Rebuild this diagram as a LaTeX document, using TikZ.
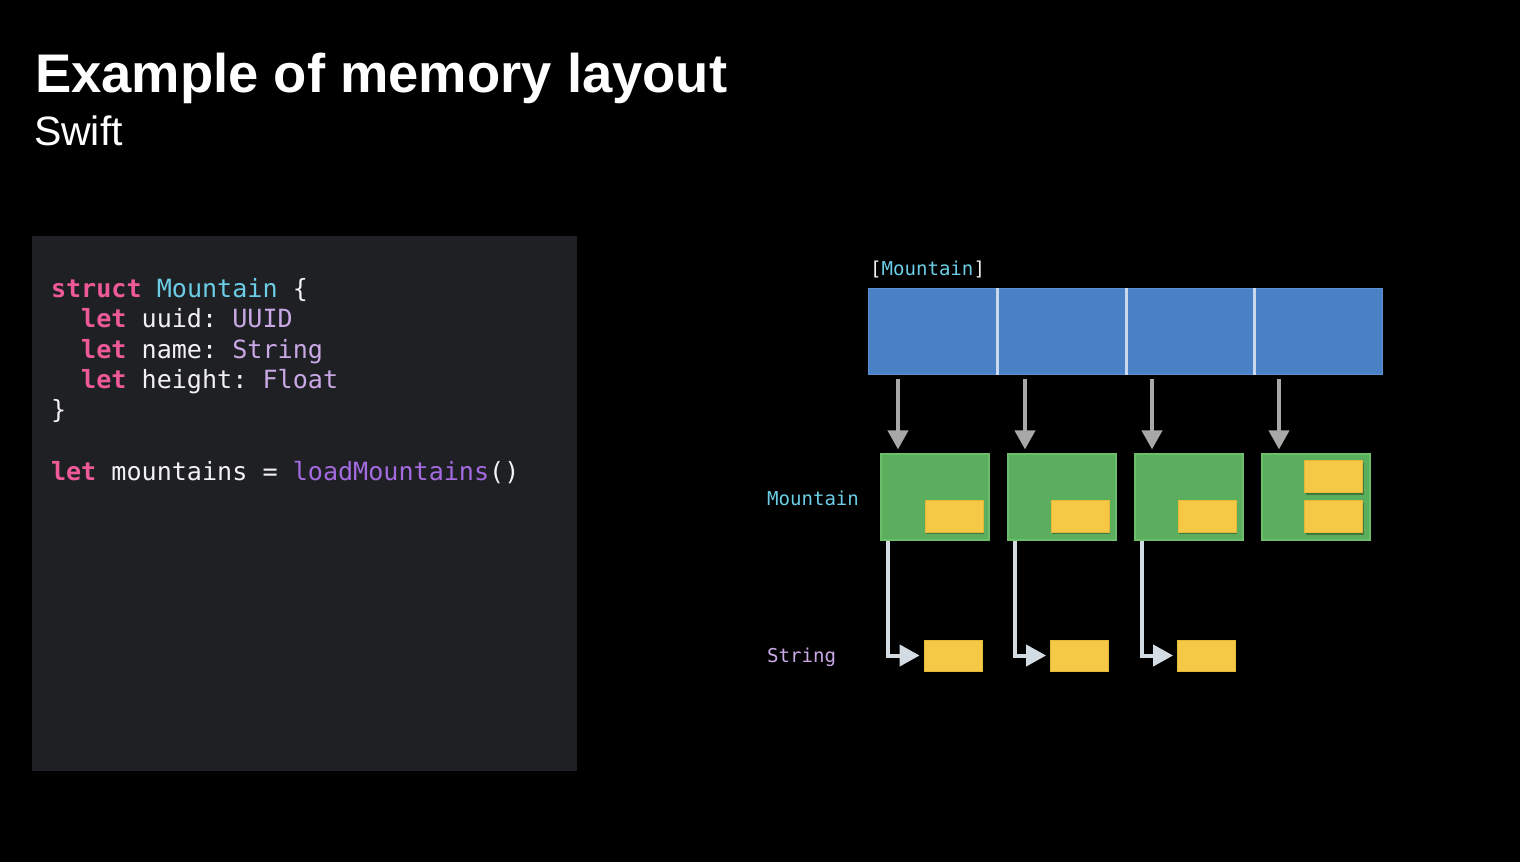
\documentclass[tikz,border=0pt]{standalone}
\usepackage{fontspec}
\setmainfont{Liberation Sans}
\setmonofont{DejaVu Sans Mono}
\usetikzlibrary{arrows.meta,shadows,calc}

\definecolor{panel}{HTML}{1F2024}
\definecolor{kw}{HTML}{EE5A97}
\definecolor{typ}{HTML}{6BCDE6}
\definecolor{lav}{HTML}{C9A8E6}
\definecolor{fn}{HTML}{A46AE0}
\definecolor{plain}{HTML}{F2F2F2}
\definecolor{cellblue}{HTML}{4A80C5}
\definecolor{celledge}{HTML}{5B90D2}
\definecolor{sep}{HTML}{C9D8EA}
\definecolor{boxgreen}{HTML}{5AAE5D}
\definecolor{boxedge}{HTML}{6CBE6B}
\definecolor{yel}{HTML}{F5C946}
\definecolor{yeledge}{HTML}{E6B83A}
\definecolor{ptrgray}{HTML}{A8A8A8}
\definecolor{strptr}{HTML}{D3DBE3}

\newcommand{\kwd}[1]{{\bfseries\color{kw}#1}}

\begin{document}
\begin{tikzpicture}[x=0.5pt,y=-0.5pt,
  txt/.style={inner sep=0pt,outer sep=0pt,anchor=base west},
  codeline/.style={txt,font=\ttfamily\fontsize{12.55}{15}\selectfont,text=plain},
  tag/.style={txt,font=\ttfamily\fontsize{9.55}{12}\selectfont},
  cell/.style={fill=cellblue,draw=celledge,line width=0.5pt,minimum width=64.125pt,minimum height=43pt,inner sep=0pt},
  sepline/.style={sep,line width=1.5pt},
  mbox/.style={fill=boxgreen,draw=boxedge,line width=0.6pt,minimum width=54pt,minimum height=43pt,inner sep=0pt},
  field/.style={fill=yel,draw=yeledge,line width=0.4pt,minimum width=29pt,minimum height=16pt,inner sep=0pt,
    drop shadow={shadow xshift=0.6pt,shadow yshift=-1.2pt,opacity=0.3,fill=black}},
  strbox/.style={fill=yel,draw=yeledge,line width=0.4pt,minimum width=29pt,minimum height=15.5pt,inner sep=0pt},
  ptr/.style={ptrgray,line width=2pt,-{Triangle[width=10pt,length=9.5pt]},shorten <=2pt,shorten >=2pt},
  sptr/.style={strptr,line width=2pt,-{Triangle[width=10.5pt,length=10pt]},shorten >=2pt}]

% page background and frame
\fill[black] (0,0) rectangle (1520,862);
\useasboundingbox (0,0) rectangle (1520,862);

% heading
\node[txt,text=white,font=\bfseries\fontsize{27.2}{32}\selectfont] (title) at (35,92) {Example of memory layout};
\node[txt,text=white,font=\fontsize{20.5}{24}\selectfont] (subtitle) at (34,145) {Swift};

% code panel
\node[fill=panel,minimum width=272.5pt,minimum height=267.5pt,inner sep=0pt,anchor=north west] (codepanel) at (32,236) {};
\node[codeline] (l1) at (51,297) {\kwd{struct} {\color{typ}Mountain} \{};
\node[codeline] (l2) at (51,327) {\phantom{xx}\kwd{let} uuid: {\color{lav}UUID}};
\node[codeline] (l3) at (51,358) {\phantom{xx}\kwd{let} name: {\color{lav}String}};
\node[codeline] (l4) at (51,388) {\phantom{xx}\kwd{let} height: {\color{lav}Float}};
\node[codeline] (l5) at (51,418) {\}};
\node[codeline] (l6) at (51,480) {\kwd{let} mountains = {\color{fn}loadMountains}()};

% array of Mountain values
\node[tag] (arrlabel) at (870,275) {{\color{plain}[}{\color{typ}Mountain}{\color{plain}]}};
\node[cell] (c1) at (933.1,331) {};
\node[cell] (c2) at (1061.4,331) {};
\node[cell] (c3) at (1189.6,331) {};
\node[cell] (c4) at (1317.9,331) {};
\draw[sepline] (c1.north east) -- (c1.south east);
\draw[sepline] (c2.north east) -- (c2.south east);
\draw[sepline] (c3.north east) -- (c3.south east);

% Mountain instances
\node[tag,text=typ] (mlabel) at (767,505) {Mountain};
\node[mbox] (m1) at (935,497) {};
\node[mbox] (m2) at (1062,497) {};
\node[mbox] (m3) at (1189,497) {};
\node[mbox] (m4) at (1316,497) {};
\node[field] (f1) at (954,516) {};
\node[field] (f2) at (1080,516) {};
\node[field] (f3) at (1207,516) {};
\node[field] (f4a) at (1333.5,476.5) {};
\node[field] (f4b) at (1333.5,516.5) {};

% pointers from array cells to instances
\foreach \i in {1,2,3,4}
  \draw[ptr] ([xshift=-18.5pt]m\i.north |- c\i.south) -- ([xshift=-18.5pt]m\i.north);

% String storage
\node[tag,text=lav] (slabel) at (767,662) {String};
\node[strbox] (s1) at (953,655.5) {};
\node[strbox] (s2) at (1079.5,655.5) {};
\node[strbox] (s3) at (1206.5,655.5) {};
\foreach \i in {1,2,3}
  \draw[sptr] ([xshift=-23.5pt]m\i.south) |- (s\i.west);
\end{tikzpicture}
\end{document}
